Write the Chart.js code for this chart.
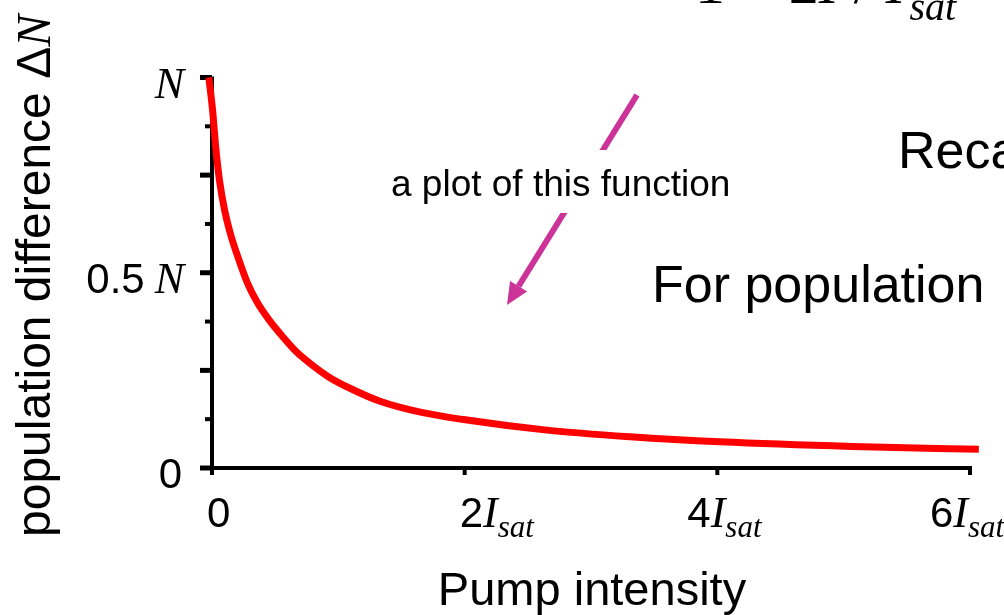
<!DOCTYPE html>
<html>
<head>
<meta charset="utf-8">
<script src="https://cdn.jsdelivr.net/npm/chart.js@4.4.1/dist/chart.umd.min.js"></script>
<style>
  html, body { margin: 0; padding: 0; background: #fff; }
  canvas { display: block; }
</style>
</head>
<body>
<canvas id="popChart" width="1004" height="615"></canvas>
<script>
// values: pump intensity (units of I_sat) vs population difference (units of N)
const intensity = [-0.025, 0.005, 0.03, 0.06, 0.10, 0.15, 0.20, 0.28, 0.36, 0.45, 0.55, 0.67, 0.80, 0.93, 1.10, 1.33, 1.65, 1.99, 2.65, 3.31, 4.02, 5.07, 6.07];
const deltaN = [1.0, 0.915, 0.82, 0.735, 0.66, 0.595, 0.545, 0.474, 0.423, 0.38, 0.34, 0.297, 0.262, 0.232, 0.203, 0.171, 0.143, 0.124, 0.097, 0.080, 0.067, 0.055, 0.048];

const xTickValues = [0, 2, 4, 6];
const xTickNumbers = ['0', '2', '4', '6'];
const xTickSymbols = ['', 'I', 'I', 'I'];
const yTickValues = [0, 0.125, 0.25, 0.375, 0.5, 0.625, 0.75, 0.875, 1];
const yLabelValues = [0, 0.5, 1];
const yLabelNumbers = ['0', '0.5', ''];
const yLabelSymbols = ['', 'N', 'N'];

const SANS = '"Liberation Sans", Arial, sans-serif';
const SERIF = '"Liberation Serif", "Times New Roman", serif';

const slideAxes = {
  id: 'slideAxes',
  beforeDatasetsDraw(chart) {
    const { ctx, scales: { x, y } } = chart;
    const x0 = x.getPixelForValue(0), y0 = y.getPixelForValue(0);
    const xEnd = x.getPixelForValue(6), yTop = y.getPixelForValue(1);
    ctx.save();
    ctx.strokeStyle = '#000';
    ctx.lineCap = 'butt';
    ctx.lineWidth = 4;
    ctx.beginPath();
    ctx.moveTo(x0, yTop - 1);
    ctx.lineTo(x0, y0 + 7);
    ctx.moveTo(x0, y0);
    ctx.lineTo(xEnd + 2, y0);
    ctx.stroke();
    yTickValues.forEach((v, i) => {
      const py = y.getPixelForValue(v);
      const major = i % 2 === 0;
      ctx.lineWidth = major ? 5 : 4;
      ctx.beginPath();
      ctx.moveTo(x0 - (major ? 12 : 7), py);
      ctx.lineTo(x0, py);
      ctx.stroke();
    });
    ctx.lineWidth = 4;
    xTickValues.forEach(v => {
      if (v === 0) return;
      const px = x.getPixelForValue(v);
      ctx.beginPath();
      ctx.moveTo(px, y0);
      ctx.lineTo(px, y0 + 7);
      ctx.stroke();
    });
    ctx.restore();
  }
};

const slideText = {
  id: 'slideText',
  afterDraw(chart) {
    const { ctx, scales: { x, y } } = chart;
    const y0 = y.getPixelForValue(0);
    ctx.save();
    ctx.fillStyle = '#000';
    ctx.textBaseline = 'alphabetic';

    // partial formula cut off at the top
    let fx = 695;
    ctx.textAlign = 'left';
    ctx.font = '60px ' + SERIF;
    ctx.fillText('1 + 2', fx, 3);
    fx += ctx.measureText('1 + 2').width;
    ctx.font = 'italic 60px ' + SERIF;
    ctx.fillText('I', fx, 3);
    fx += ctx.measureText('I').width;
    ctx.font = '60px ' + SERIF;
    ctx.fillText(' / ', fx, 3);
    fx += ctx.measureText(' / ').width;
    ctx.font = 'italic 60px ' + SERIF;
    ctx.fillText('I', fx, 3);
    fx += ctx.measureText('I').width;
    ctx.font = 'italic 40px ' + SERIF;
    ctx.fillText('sat', fx + 4, 20);

    // slide body text
    ctx.font = '52px ' + SANS;
    ctx.fillText('Reca', 898, 168);
    ctx.fillText('For population', 652, 302);

    // arrow
    const ax1 = 637, ay1 = 95, ax2 = 507, ay2 = 305;
    const ang = Math.atan2(ay2 - ay1, ax2 - ax1);
    const headLen = 22, headW = 10;
    const bx = ax2 - headLen * Math.cos(ang), by = ay2 - headLen * Math.sin(ang);
    ctx.strokeStyle = '#cc3399';
    ctx.fillStyle = '#cc3399';
    ctx.lineWidth = 6;
    ctx.beginPath();
    ctx.moveTo(ax1, ay1);
    ctx.lineTo(bx, by);
    ctx.stroke();
    ctx.beginPath();
    ctx.moveTo(ax2, ay2);
    ctx.lineTo(bx + headW * Math.sin(ang), by - headW * Math.cos(ang));
    ctx.lineTo(bx - headW * Math.sin(ang), by + headW * Math.cos(ang));
    ctx.closePath();
    ctx.fill();

    // annotation with white box over the arrow
    ctx.fillStyle = '#fff';
    ctx.fillRect(385, 150, 352, 63);
    ctx.fillStyle = '#000';
    ctx.font = '37px ' + SANS;
    ctx.fillText('a plot of this function', 391, 196);

    // y tick labels
    yLabelValues.forEach((v, i) => {
      const py = y.getPixelForValue(v) + 20;
      let right = 184;
      ctx.textAlign = 'right';
      if (yLabelSymbols[i]) {
        ctx.font = 'italic 44px ' + SERIF;
        ctx.fillText(yLabelSymbols[i], right, py);
        right -= ctx.measureText(yLabelSymbols[i]).width + 10;
      } else {
        right = 182;
      }
      if (yLabelNumbers[i]) {
        ctx.font = '42px ' + SANS;
        ctx.fillText(yLabelNumbers[i], right, py);
      }
    });

    // x tick labels
    const xShift = [-5, -5, -30, -40];
    ctx.textAlign = 'left';
    xTickValues.forEach((v, i) => {
      let px = x.getPixelForValue(v) + xShift[i];
      const py = y0 + 59;
      ctx.font = '42px ' + SANS;
      ctx.fillText(xTickNumbers[i], px, py);
      px += ctx.measureText(xTickNumbers[i]).width;
      if (xTickSymbols[i]) {
        ctx.font = 'italic 44px ' + SERIF;
        ctx.fillText(xTickSymbols[i], px, py);
        px += ctx.measureText(xTickSymbols[i]).width;
        ctx.font = 'italic 31px ' + SERIF;
        ctx.fillText('sat', px, py + 10);
      }
    });

    // axis titles
    ctx.textAlign = 'center';
    ctx.font = '47px ' + SANS;
    ctx.fillText('Pump intensity', 592, 605);

    ctx.translate(50, 537);
    ctx.rotate(-Math.PI / 2);
    ctx.textAlign = 'left';
    ctx.font = '48px ' + SANS;
    const t1 = 'population difference \u0394';
    ctx.fillText(t1, 0, 0);
    const w1 = ctx.measureText(t1).width;
    ctx.font = 'italic 48px ' + SERIF;
    ctx.fillText('N', w1, 0);
    ctx.restore();
  }
};

new Chart(document.getElementById('popChart'), {
  type: 'scatter',
  data: {
    datasets: [{
      label: 'population difference',
      data: intensity.map((v, i) => ({ x: v, y: deltaN[i] })),
      showLine: true,
      borderColor: '#ff0000',
      borderWidth: 7,
      borderCapStyle: 'butt',
      pointRadius: 0,
      cubicInterpolationMode: 'monotone',
      clip: false
    }]
  },
  options: {
    responsive: false,
    animation: false,
    layout: { padding: { left: 212, right: 34, top: 77.5, bottom: 147 } },
    scales: {
      x: { type: 'linear', min: 0, max: 6, display: false },
      y: { type: 'linear', min: 0, max: 1, display: false }
    },
    plugins: { legend: { display: false }, tooltip: { enabled: false } }
  },
  plugins: [slideAxes, slideText]
});
</script>
</body>
</html>
